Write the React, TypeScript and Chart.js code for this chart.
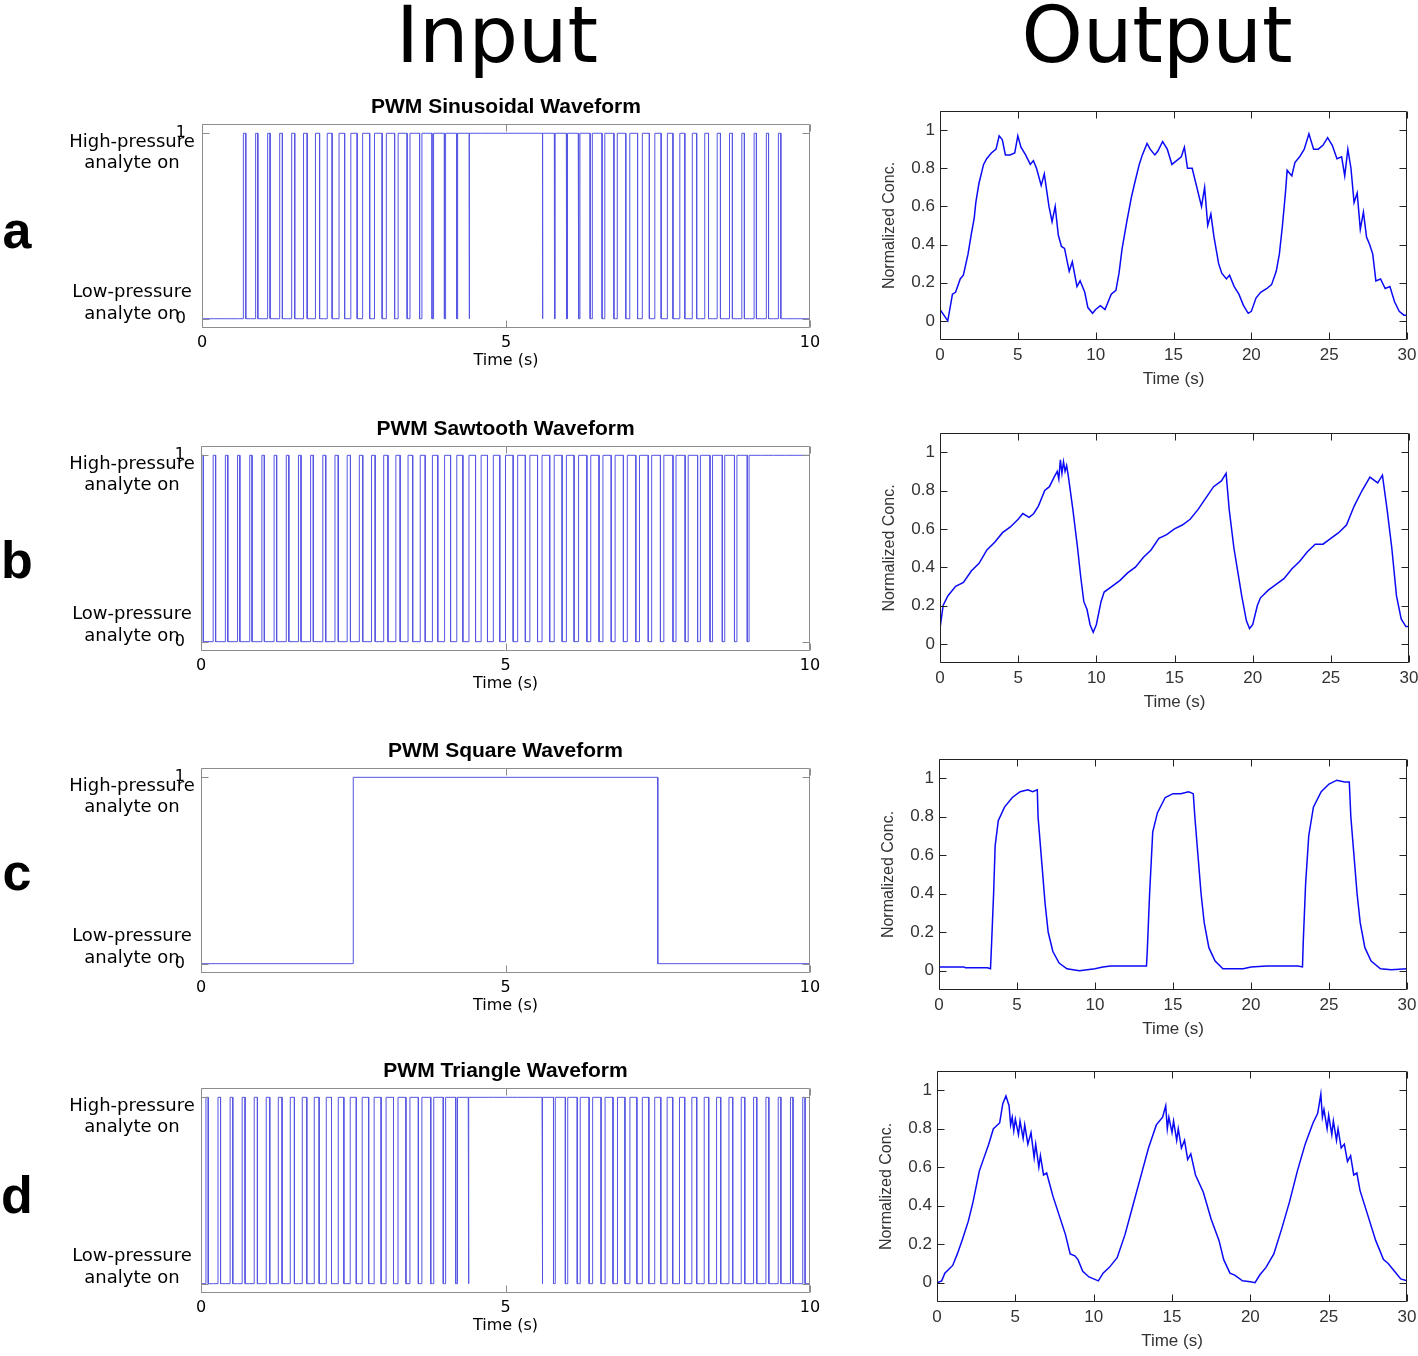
import React, { useEffect, useRef } from "react";
import { Chart, registerables } from "chart.js";
Chart.register(...registerables);

// ---------------- data ----------------
const PWM_PERIOD = 0.2; // s, one switching cycle
// duty cycle of each 0.2 s PWM cycle (50 cycles over 10 s)
const sineDuty = [0, 0, 0, 0.2, 0.18, 0.2, 0.22, 0.25, 0.3, 0.34, 0.4, 0.46, 0.52, 0.58, 0.63, 0.68, 0.74, 0.79, 0.83, 0.87, 0.9, 0.93, 1, 1, 1, 1, 1, 1, 0.95, 0.92, 0.88, 0.84, 0.8, 0.75, 0.7, 0.64, 0.58, 0.52, 0.46, 0.41, 0.36, 0.31, 0.27, 0.24, 0.21, 0.19, 0.18, 0.2, 0, 0];
const sawDuty = [0.19, 0.2, 0.2, 0.19, 0.19, 0.2, 0.21, 0.21, 0.21, 0.22, 0.24, 0.27, 0.27, 0.28, 0.3, 0.35, 0.35, 0.38, 0.41, 0.44, 0.49, 0.5, 0.54, 0.52, 0.53, 0.63, 0.63, 0.63, 0.63, 0.65, 0.63, 0.68, 0.68, 0.68, 0.68, 0.7, 0.72, 0.72, 0.75, 0.75, 0.77, 0.79, 0.8, 0.8, 0.85, 1, 1, 1, 1, 1];
const triDuty = [0.19, 0.21, 0.22, 0.24, 0.26, 0.29, 0.31, 0.34, 0.37, 0.4, 0.43, 0.46, 0.5, 0.53, 0.57, 0.61, 0.65, 0.69, 0.73, 0.78, 0.83, 0.88, 1, 1, 1, 1, 1, 1, 0.88, 0.83, 0.78, 0.73, 0.69, 0.65, 0.61, 0.57, 0.53, 0.5, 0.46, 0.43, 0.4, 0.37, 0.34, 0.31, 0.29, 0.26, 0.24, 0.22, 0.21, 0.19];
const squareEdges = [2.5, 7.5]; // switching instants of the square input (s)

const inputXTicks = [0, 5, 10];
const inputYTicks = [0, 1];
const outputXTicks = [0, 5, 10, 15, 20, 25, 30];
const outputYTicks = [0, 0.2, 0.4, 0.6, 0.8, 1];

// measured outputs (time in s, normalized concentration)
const sineOutT = [0, 0.5, 0.8, 1, 1.3, 1.5, 1.8, 2, 2.2, 2.3, 2.5, 2.8, 3, 3.3, 3.6, 3.8, 4, 4.2, 4.5, 4.8, 5, 5.2, 5.5, 5.8, 6, 6.2, 6.5, 6.7, 7, 7.2, 7.4, 7.6, 7.8, 8, 8.3, 8.5, 8.8, 9, 9.3, 9.5, 9.8, 10, 10.3, 10.6, 11, 11.3, 11.5, 11.7, 12, 12.3, 12.5, 12.8, 13, 13.3, 13.5, 13.8, 14, 14.3, 14.6, 14.9, 15.2, 15.5, 15.7, 15.9, 16.2, 16.5, 16.8, 17, 17.2, 17.4, 17.6, 17.9, 18.1, 18.4, 18.6, 18.9, 19.2, 19.5, 19.8, 20, 20.3, 20.6, 21, 21.3, 21.6, 21.8, 22, 22.2, 22.3, 22.6, 22.8, 23.1, 23.4, 23.7, 24, 24.3, 24.6, 24.9, 25.2, 25.5, 25.8, 26, 26.2, 26.4, 26.6, 26.8, 27, 27.2, 27.4, 27.6, 27.8, 28, 28.3, 28.6, 28.9, 29.2, 29.5, 29.8, 30];
const sineOutY = [0.06, 0, 0.14, 0.15, 0.22, 0.24, 0.35, 0.45, 0.54, 0.62, 0.72, 0.82, 0.85, 0.88, 0.9, 0.97, 0.95, 0.87, 0.87, 0.88, 0.97, 0.91, 0.87, 0.82, 0.84, 0.8, 0.71, 0.77, 0.6, 0.52, 0.6, 0.45, 0.39, 0.38, 0.26, 0.31, 0.18, 0.21, 0.15, 0.07, 0.04, 0.06, 0.08, 0.06, 0.14, 0.16, 0.25, 0.38, 0.52, 0.65, 0.72, 0.82, 0.87, 0.93, 0.9, 0.87, 0.89, 0.94, 0.9, 0.82, 0.84, 0.86, 0.91, 0.8, 0.8, 0.7, 0.6, 0.7, 0.5, 0.56, 0.44, 0.3, 0.25, 0.22, 0.24, 0.18, 0.14, 0.08, 0.04, 0.05, 0.12, 0.15, 0.17, 0.19, 0.26, 0.35, 0.5, 0.68, 0.79, 0.76, 0.83, 0.86, 0.9, 0.98, 0.9, 0.9, 0.92, 0.96, 0.92, 0.85, 0.86, 0.76, 0.9, 0.8, 0.62, 0.67, 0.48, 0.57, 0.44, 0.4, 0.35, 0.21, 0.22, 0.17, 0.18, 0.1, 0.05, 0.03, 0.03];

const sawOutT = [0, 0.2, 0.5, 1, 1.5, 2, 2.5, 3, 3.5, 4, 4.5, 5, 5.3, 5.7, 6, 6.3, 6.7, 7, 7.3, 7.5, 7.6, 7.7, 7.8, 7.9, 8.0, 8.1, 8.2, 8.5, 8.8, 9, 9.2, 9.4, 9.6, 9.8, 10, 10.3, 10.5, 11, 11.5, 12, 12.5, 13, 13.5, 14, 14.5, 15, 15.5, 16, 16.5, 17, 17.5, 18, 18.3, 18.5, 18.8, 19, 19.3, 19.6, 19.8, 20, 20.3, 20.5, 21, 21.5, 22, 22.5, 23, 23.5, 24, 24.5, 25, 25.5, 26, 26.5, 27, 27.5, 28, 28.3, 28.6, 28.9, 29.2, 29.5, 29.8, 30];
const sawOutY = [0.08, 0.2, 0.25, 0.3, 0.32, 0.38, 0.42, 0.49, 0.53, 0.58, 0.61, 0.65, 0.68, 0.66, 0.68, 0.72, 0.8, 0.82, 0.87, 0.9, 0.86, 0.96, 0.89, 0.95, 0.9, 0.93, 0.88, 0.7, 0.5, 0.35, 0.22, 0.18, 0.1, 0.06, 0.1, 0.22, 0.27, 0.3, 0.33, 0.37, 0.4, 0.45, 0.49, 0.55, 0.57, 0.6, 0.62, 0.65, 0.7, 0.76, 0.82, 0.85, 0.89, 0.7, 0.5, 0.4, 0.25, 0.12, 0.08, 0.1, 0.2, 0.24, 0.28, 0.31, 0.34, 0.39, 0.43, 0.48, 0.52, 0.52, 0.55, 0.58, 0.62, 0.72, 0.8, 0.87, 0.84, 0.88, 0.7, 0.5, 0.25, 0.13, 0.09, 0.09];

const squareOutT = [0, 1.6, 1.7, 3.1, 3.3, 3.35, 3.5, 3.6, 3.8, 4.2, 4.7, 5.2, 5.7, 6.0, 6.3, 6.35, 6.6, 6.8, 7.0, 7.3, 7.7, 8.2, 9, 10, 10.5, 11, 13.3, 13.35, 13.5, 13.7, 14.0, 14.5, 15.0, 15.5, 16.0, 16.3, 16.4, 16.6, 16.8, 17.0, 17.3, 17.7, 18.2, 19.5, 20, 21, 23, 23.3, 23.35, 23.5, 23.7, 24.0, 24.5, 25.0, 25.5, 26.0, 26.3, 26.4, 26.6, 26.8, 27.0, 27.3, 27.7, 28.3, 29, 30];
const squareOutY = [0.02, 0.02, 0.015, 0.015, 0.01, 0.1, 0.4, 0.65, 0.78, 0.85, 0.9, 0.93, 0.94, 0.93, 0.94, 0.8, 0.55, 0.35, 0.2, 0.1, 0.04, 0.01, 0.0, 0.01, 0.02, 0.025, 0.025, 0.1, 0.4, 0.72, 0.82, 0.9, 0.92, 0.92, 0.93, 0.92, 0.8, 0.6, 0.4, 0.25, 0.12, 0.05, 0.01, 0.01, 0.02, 0.025, 0.025, 0.02, 0.15, 0.45, 0.7, 0.85, 0.93, 0.97, 0.99, 0.98, 0.98, 0.8, 0.6, 0.4, 0.25, 0.12, 0.05, 0.01, 0.005, 0.01];

const triOutT = [0, 0.3, 0.5, 1, 1.3, 1.6, 2, 2.3, 2.7, 3, 3.3, 3.6, 4, 4.2, 4.4, 4.6, 4.7, 4.8, 4.9, 5.0, 5.2, 5.3, 5.5, 5.6, 5.8, 6.0, 6.2, 6.3, 6.5, 6.6, 6.8, 7.0, 7.4, 7.8, 8.2, 8.5, 8.8, 9, 9.3, 9.7, 10, 10.3, 10.6, 11, 11.5, 12, 12.5, 13, 13.5, 14, 14.4, 14.6, 14.7, 14.8, 15.0, 15.1, 15.3, 15.4, 15.6, 15.8, 16.0, 16.2, 16.5, 17, 17.5, 18, 18.3, 18.7, 19, 19.5, 20, 20.3, 20.6, 21, 21.5, 22, 22.5, 23, 23.5, 24, 24.3, 24.5, 24.6, 24.7, 24.9, 25.0, 25.2, 25.3, 25.5, 25.6, 25.8, 26.0, 26.2, 26.4, 26.6, 26.8, 27.0, 27.5, 28, 28.5, 28.8, 29.2, 29.6, 30];
const triOutY = [0, 0.01, 0.05, 0.09, 0.15, 0.22, 0.32, 0.42, 0.58, 0.65, 0.72, 0.8, 0.83, 0.93, 0.97, 0.92, 0.82, 0.86, 0.79, 0.85, 0.77, 0.84, 0.75, 0.82, 0.72, 0.78, 0.65, 0.72, 0.6, 0.66, 0.56, 0.57, 0.45, 0.35, 0.25, 0.15, 0.14, 0.12, 0.06, 0.03, 0.02, 0.01, 0.05, 0.08, 0.13, 0.25, 0.4, 0.55, 0.7, 0.82, 0.86, 0.92, 0.8, 0.86, 0.78, 0.84, 0.74, 0.8, 0.7, 0.74, 0.64, 0.67, 0.56, 0.47, 0.33, 0.22, 0.12, 0.05, 0.04, 0.01, 0.005, 0, 0.04, 0.08, 0.15, 0.28, 0.42, 0.58, 0.72, 0.83, 0.88, 0.98, 0.86, 0.9, 0.8, 0.87, 0.77, 0.84, 0.74, 0.8, 0.7, 0.72, 0.63, 0.66, 0.56, 0.57, 0.48, 0.35, 0.22, 0.12, 0.1, 0.06, 0.02, 0.01];

// ---------------- helpers ----------------
type Pt = { x: number; y: number };

function pwmPoints(duty: number[], period: number, align: "left" | "center"): Pt[] {
  const pts: Pt[] = [];
  duty.forEach((d, k) => {
    const t0 = k * period;
    const t1 = t0 + period;
    if (d <= 0) {
      pts.push({ x: t0, y: 0 }, { x: t1, y: 0 });
    } else if (d >= 1) {
      pts.push({ x: t0, y: 1 }, { x: t1, y: 1 });
    } else {
      const w = d * period;
      const hs = align === "left" ? t0 : t0 + (period - w) / 2;
      const he = hs + w;
      if (hs > t0) pts.push({ x: t0, y: 0 }, { x: hs, y: 0 });
      pts.push({ x: hs, y: 1 }, { x: he, y: 1 }, { x: he, y: 0 }, { x: t1, y: 0 });
    }
  });
  return pts;
}

function edgePoints(edges: number[], tEnd: number): Pt[] {
  const pts: Pt[] = [{ x: 0, y: 0 }];
  let level = 0;
  edges.forEach((e) => {
    pts.push({ x: e, y: level });
    level = 1 - level;
    pts.push({ x: e, y: level });
  });
  pts.push({ x: tEnd, y: level });
  return pts;
}

function zip(t: number[], y: number[]): Pt[] {
  const n = Math.min(t.length, y.length);
  const out: Pt[] = [];
  for (let i = 0; i < n; i++) out.push({ x: t[i], y: y[i] });
  return out;
}

const framePlugin = {
  id: "frame",
  afterDraw(chart: any, _args: any, opts: any) {
    const { ctx, chartArea: a, scales } = chart;
    const L = Math.round(a.left) + 0.5;
    const R = Math.round(a.right) - 0.5;
    const T = Math.round(a.top) + 0.5;
    const B = Math.round(a.bottom) - 0.5;
    ctx.save();
    ctx.strokeStyle = opts.color;
    ctx.lineWidth = 1;
    ctx.beginPath();
    ctx.rect(L, T, R - L, B - T);
    const len = opts.tickLen;
    scales.x.ticks.forEach((t: any) => {
      const px = Math.round(scales.x.getPixelForValue(t.value)) + 0.5;
      ctx.moveTo(px, B);
      ctx.lineTo(px, B - len);
      ctx.moveTo(px, T);
      ctx.lineTo(px, T + len);
    });
    scales.y.ticks.forEach((t: any) => {
      const py = Math.round(scales.y.getPixelForValue(t.value)) + 0.5;
      ctx.moveTo(L, py);
      ctx.lineTo(L + len, py);
      ctx.moveTo(R, py);
      ctx.lineTo(R - len, py);
    });
    ctx.stroke();
    ctx.restore();
  },
};

type Box = { l: number; t: number; r: number; b: number };

// geometry constants
const IN_YW = 40, IN_XH = 42, IN_PT = 34;
const OUT_YW = 60, OUT_XH = 50, OUT_PT = 20;
const PAD_R = 25, PAD_B = 5;

function inputConfig(points: Pt[], showY: boolean) {
  return {
    type: "line",
    data: {
      datasets: [
        {
          data: points,
          borderColor: "rgb(85,85,228)",
          borderWidth: 1,
          pointRadius: 0,
          tension: 0,
          fill: false,
        },
      ],
    },
    options: {
      animation: false,
      responsive: false,
      events: [],
      layout: { padding: { left: 0, top: IN_PT, right: PAD_R, bottom: PAD_B } },
      plugins: {
        legend: { display: false },
        tooltip: { enabled: false },
        frame: { color: "rgb(140,140,140)", tickLen: 7 },
      },
      scales: {
        x: {
          type: "linear",
          min: 0,
          max: 10,
          grid: { display: false, drawTicks: false },
          border: { display: false },
          afterBuildTicks: (s: any) => {
            s.ticks = inputXTicks.map((v) => ({ value: v }));
          },
          afterFit: (s: any) => {
            s.height = IN_XH;
          },
          ticks: {
            autoSkip: false,
            maxRotation: 0,
            padding: 5,
            color: "#000",
            font: { family: "DejaVu Sans", size: 16 },
          },
          title: {
            display: true,
            text: "Time (s)",
            color: "#000",
            padding: { top: 0, bottom: 0 },
            font: { family: "DejaVu Sans", size: 16 },
          },
        },
        y: {
          type: "linear",
          min: -0.05,
          max: 1.05,
          grid: { display: false, drawTicks: false },
          border: { display: false },
          afterBuildTicks: (s: any) => {
            s.ticks = inputYTicks.map((v) => ({ value: v }));
          },
          afterFit: (s: any) => {
            s.width = IN_YW;
          },
          ticks: {
            display: showY,
            padding: 16,
            color: "#000",
            font: { family: "DejaVu Sans", size: 16 },
          },
        },
      },
    },
    plugins: [framePlugin],
  };
}

function outputConfig(points: Pt[]) {
  return {
    type: "line",
    data: {
      datasets: [
        {
          data: points,
          borderColor: "rgb(10,10,245)",
          borderWidth: 1.5,
          pointRadius: 0,
          tension: 0,
          fill: false,
        },
      ],
    },
    options: {
      animation: false,
      responsive: false,
      events: [],
      layout: { padding: { left: 0, top: OUT_PT, right: PAD_R, bottom: PAD_B } },
      plugins: {
        legend: { display: false },
        tooltip: { enabled: false },
        frame: { color: "#222", tickLen: 7 },
      },
      scales: {
        x: {
          type: "linear",
          min: 0,
          max: 30,
          grid: { display: false, drawTicks: false },
          border: { display: false },
          afterBuildTicks: (s: any) => {
            s.ticks = outputXTicks.map((v) => ({ value: v }));
          },
          afterFit: (s: any) => {
            s.height = OUT_XH;
          },
          ticks: {
            autoSkip: false,
            maxRotation: 0,
            padding: 5,
            color: "#333",
            font: { family: "Liberation Sans", size: 17 },
          },
          title: {
            display: true,
            text: "Time (s)",
            color: "#333",
            padding: { top: 0, bottom: 0 },
            font: { family: "Liberation Sans", size: 17 },
          },
        },
        y: {
          type: "linear",
          min: -0.1,
          max: 1.1,
          grid: { display: false, drawTicks: false },
          border: { display: false },
          afterBuildTicks: (s: any) => {
            s.ticks = outputYTicks.map((v) => ({ value: v }));
          },
          afterFit: (s: any) => {
            s.width = OUT_YW;
          },
          ticks: {
            padding: 5,
            color: "#333",
            font: { family: "Liberation Sans", size: 17 },
            callback: (v: any) => String(Math.round(Number(v) * 10) / 10),
          },
          title: {
            display: true,
            text: "Normalized Conc.",
            color: "#333",
            padding: { top: 0, bottom: 0 },
            font: { family: "Liberation Sans", size: 16 },
          },
        },
      },
    },
    plugins: [framePlugin],
  };
}

function ChartPanel(props: { box: Box; yw: number; xh: number; pt: number; config: () => any }) {
  const ref = useRef<HTMLCanvasElement>(null);
  const { box, yw, xh, pt } = props;
  const left = box.l - yw;
  const top = box.t - pt;
  const width = box.r - box.l + yw + PAD_R;
  const height = box.b - box.t + pt + xh + PAD_B;
  useEffect(() => {
    const chart = new Chart(ref.current as HTMLCanvasElement, props.config() as any);
    return () => chart.destroy();
  }, []);
  return (
    <div style={{ position: "absolute", left, top, width, height }}>
      <canvas ref={ref} width={width} height={height} style={{ width, height, display: "block" }} />
    </div>
  );
}

function Text(props: { x: number; base: number; size: number; family: string; bold?: boolean; children: any; color?: string }) {
  const { x, base, size, family, bold } = props;
  return (
    <div
      style={{
        position: "absolute",
        left: x - 300,
        width: 600,
        top: base - 0.846 * size,
        textAlign: "center",
        fontFamily: family,
        fontSize: size,
        lineHeight: `${size}px`,
        fontWeight: bold ? "bold" : "normal",
        color: props.color || "#000",
        whiteSpace: "nowrap",
        pointerEvents: "none",
      }}
    >
      {props.children}
    </div>
  );
}

const inBoxes: Box[] = [
  { l: 202, t: 124, r: 810, b: 328 },
  { l: 201, t: 446, r: 810, b: 651 },
  { l: 201, t: 768, r: 810, b: 973 },
  { l: 201, t: 1088, r: 810, b: 1293 },
];
const outBoxes: Box[] = [
  { l: 940, t: 111, r: 1407, b: 340 },
  { l: 940, t: 433, r: 1409, b: 663 },
  { l: 939, t: 759, r: 1407, b: 990 },
  { l: 937, t: 1071, r: 1407, b: 1302 },
];
const titles = ["PWM Sinusoidal Waveform", "PWM Sawtooth Waveform", "PWM Square Waveform", "PWM Triangle Waveform"];
const rowLetters = ["a", "b", "c", "d"];
const letterBase = [248, 578, 890, 1213];

export default function App() {
  const inputs = [
    () => inputConfig(pwmPoints(sineDuty, PWM_PERIOD, "center"), true),
    () => inputConfig(pwmPoints(sawDuty, PWM_PERIOD, "left"), true),
    () => inputConfig(edgePoints(squareEdges, 10), true),
    () => inputConfig(pwmPoints(triDuty, PWM_PERIOD, "center"), false),
  ];
  const outputs = [
    () => outputConfig(zip(sineOutT, sineOutY)),
    () => outputConfig(zip(sawOutT, sawOutY)),
    () => outputConfig(zip(squareOutT, squareOutY)),
    () => outputConfig(zip(triOutT, triOutY)),
  ];
  return (
    <div style={{ position: "absolute", left: 0, top: 0, width: 1418, height: 1356, background: "#fff", overflow: "hidden" }}>
      {inBoxes.map((b, i) => (
        <React.Fragment key={"in" + i}>
          <ChartPanel box={b} yw={IN_YW} xh={IN_XH} pt={IN_PT} config={inputs[i]} />
          <ChartPanel box={outBoxes[i]} yw={OUT_YW} xh={OUT_XH} pt={OUT_PT} config={outputs[i]} />
          <Text x={(b.l + b.r) / 2} base={b.t - 11} size={21} family="Liberation Sans" bold>
            {titles[i]}
          </Text>
          <Text x={17} base={letterBase[i]} size={52} family="Liberation Sans" bold>
            {rowLetters[i]}
          </Text>
          <Text x={132} base={b.t + 23} size={18} family="DejaVu Sans">High-pressure</Text>
          <Text x={132} base={b.t + 44} size={18} family="DejaVu Sans">analyte on</Text>
          <Text x={132} base={b.t + 173} size={18} family="DejaVu Sans">Low-pressure</Text>
          <Text x={132} base={b.t + 195} size={18} family="DejaVu Sans">analyte on</Text>
        </React.Fragment>
      ))}
      <Text x={497} base={62} size={78} family="DejaVu Sans">Input</Text>
      <Text x={1157} base={62} size={78} family="DejaVu Sans">Output</Text>
    </div>
  );
}
